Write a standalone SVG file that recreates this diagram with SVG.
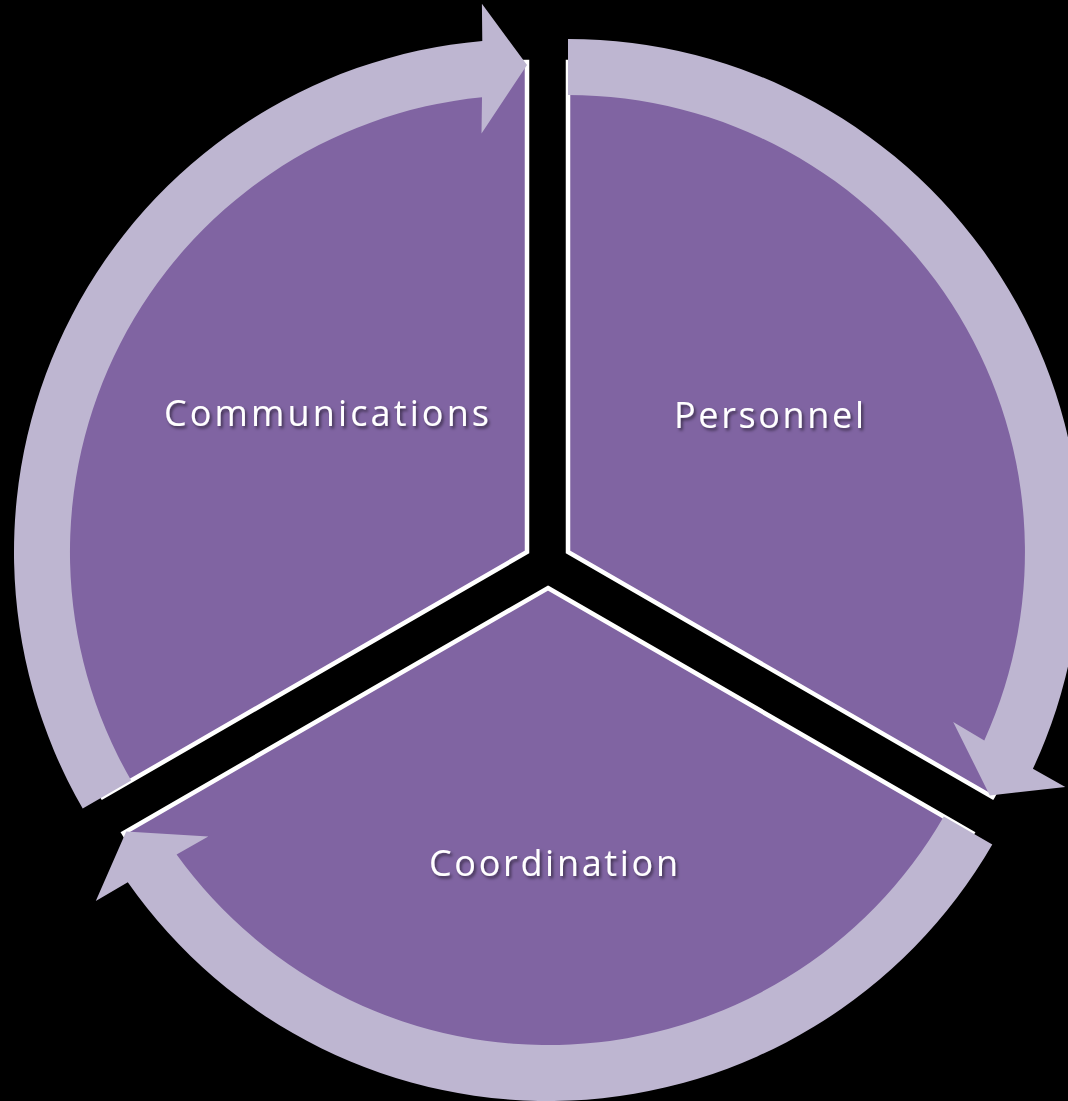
<svg xmlns="http://www.w3.org/2000/svg" width="1068" height="1101" viewBox="0 0 1068 1101">
  <defs>
    <style>
      .sector { fill: #8064A2; stroke: #FFFFFF; stroke-width: 4.5; stroke-linejoin: miter; }
      .arrow { fill: #BEB6D1; stroke: none; }
      .label { font-family: "Open Sans", Lato, "Liberation Sans", sans-serif; font-size: 36px; fill: #FFFFFF; font-variant-ligatures: none; filter: url(#shadow); }
    </style>
    <filter id="shadow" x="-10%" y="-30%" width="120%" height="160%">
      <feDropShadow dx="2" dy="2.5" stdDeviation="1.8" flood-color="#000000" flood-opacity="0.5"/>
    </filter>
  </defs>
  <rect x="0" y="0" width="1068" height="1101" fill="#000000"/>

  <g id="node-communications">
    <path class="sector" d="M527,552 L527,62 A490,490 0 0 0 102.6,797 Z"/>
  </g>
  <g id="node-personnel">
    <path class="sector" d="M568,552 L568,62 A490,490 0 0 1 992.4,797 Z"/>
  </g>
  <g id="node-coordination">
    <path class="sector" d="M548,588 L972.4,833 A490,490 0 0 1 123.6,833 Z"/>
  </g>

  <g id="connectors">
    <path class="arrow" d="M82.7,808.5 A513,513 0 0 1 482.3,41 L481.9,3.8 L527,65 L481.5,133.4 L482,97.2 A457,457 0 0 0 131.2,780.5 Z"/>
    <path class="arrow" d="M568,39 A513,513 0 0 1 1032.9,768.8 L1065.3,787.1 L989.8,795.5 L953.2,721.9 L984.3,740.4 A457,457 0 0 0 568,95 Z"/>
    <path class="arrow" d="M992.3,844.5 A513,513 0 0 1 127.8,882.3 L95.8,901.1 L126.2,831.5 L208.3,836.6 L176.6,854.4 A457,457 0 0 0 943.8,816.5 Z"/>
  </g>

  <g id="labels">
    <text class="label" x="164" y="426" textLength="325" lengthAdjust="spacing">Communications</text>
    <text class="label" x="674" y="428" textLength="190" lengthAdjust="spacing">Personnel</text>
    <text class="label" x="429" y="876" textLength="249" lengthAdjust="spacing">Coordination</text>
  </g>
</svg>
